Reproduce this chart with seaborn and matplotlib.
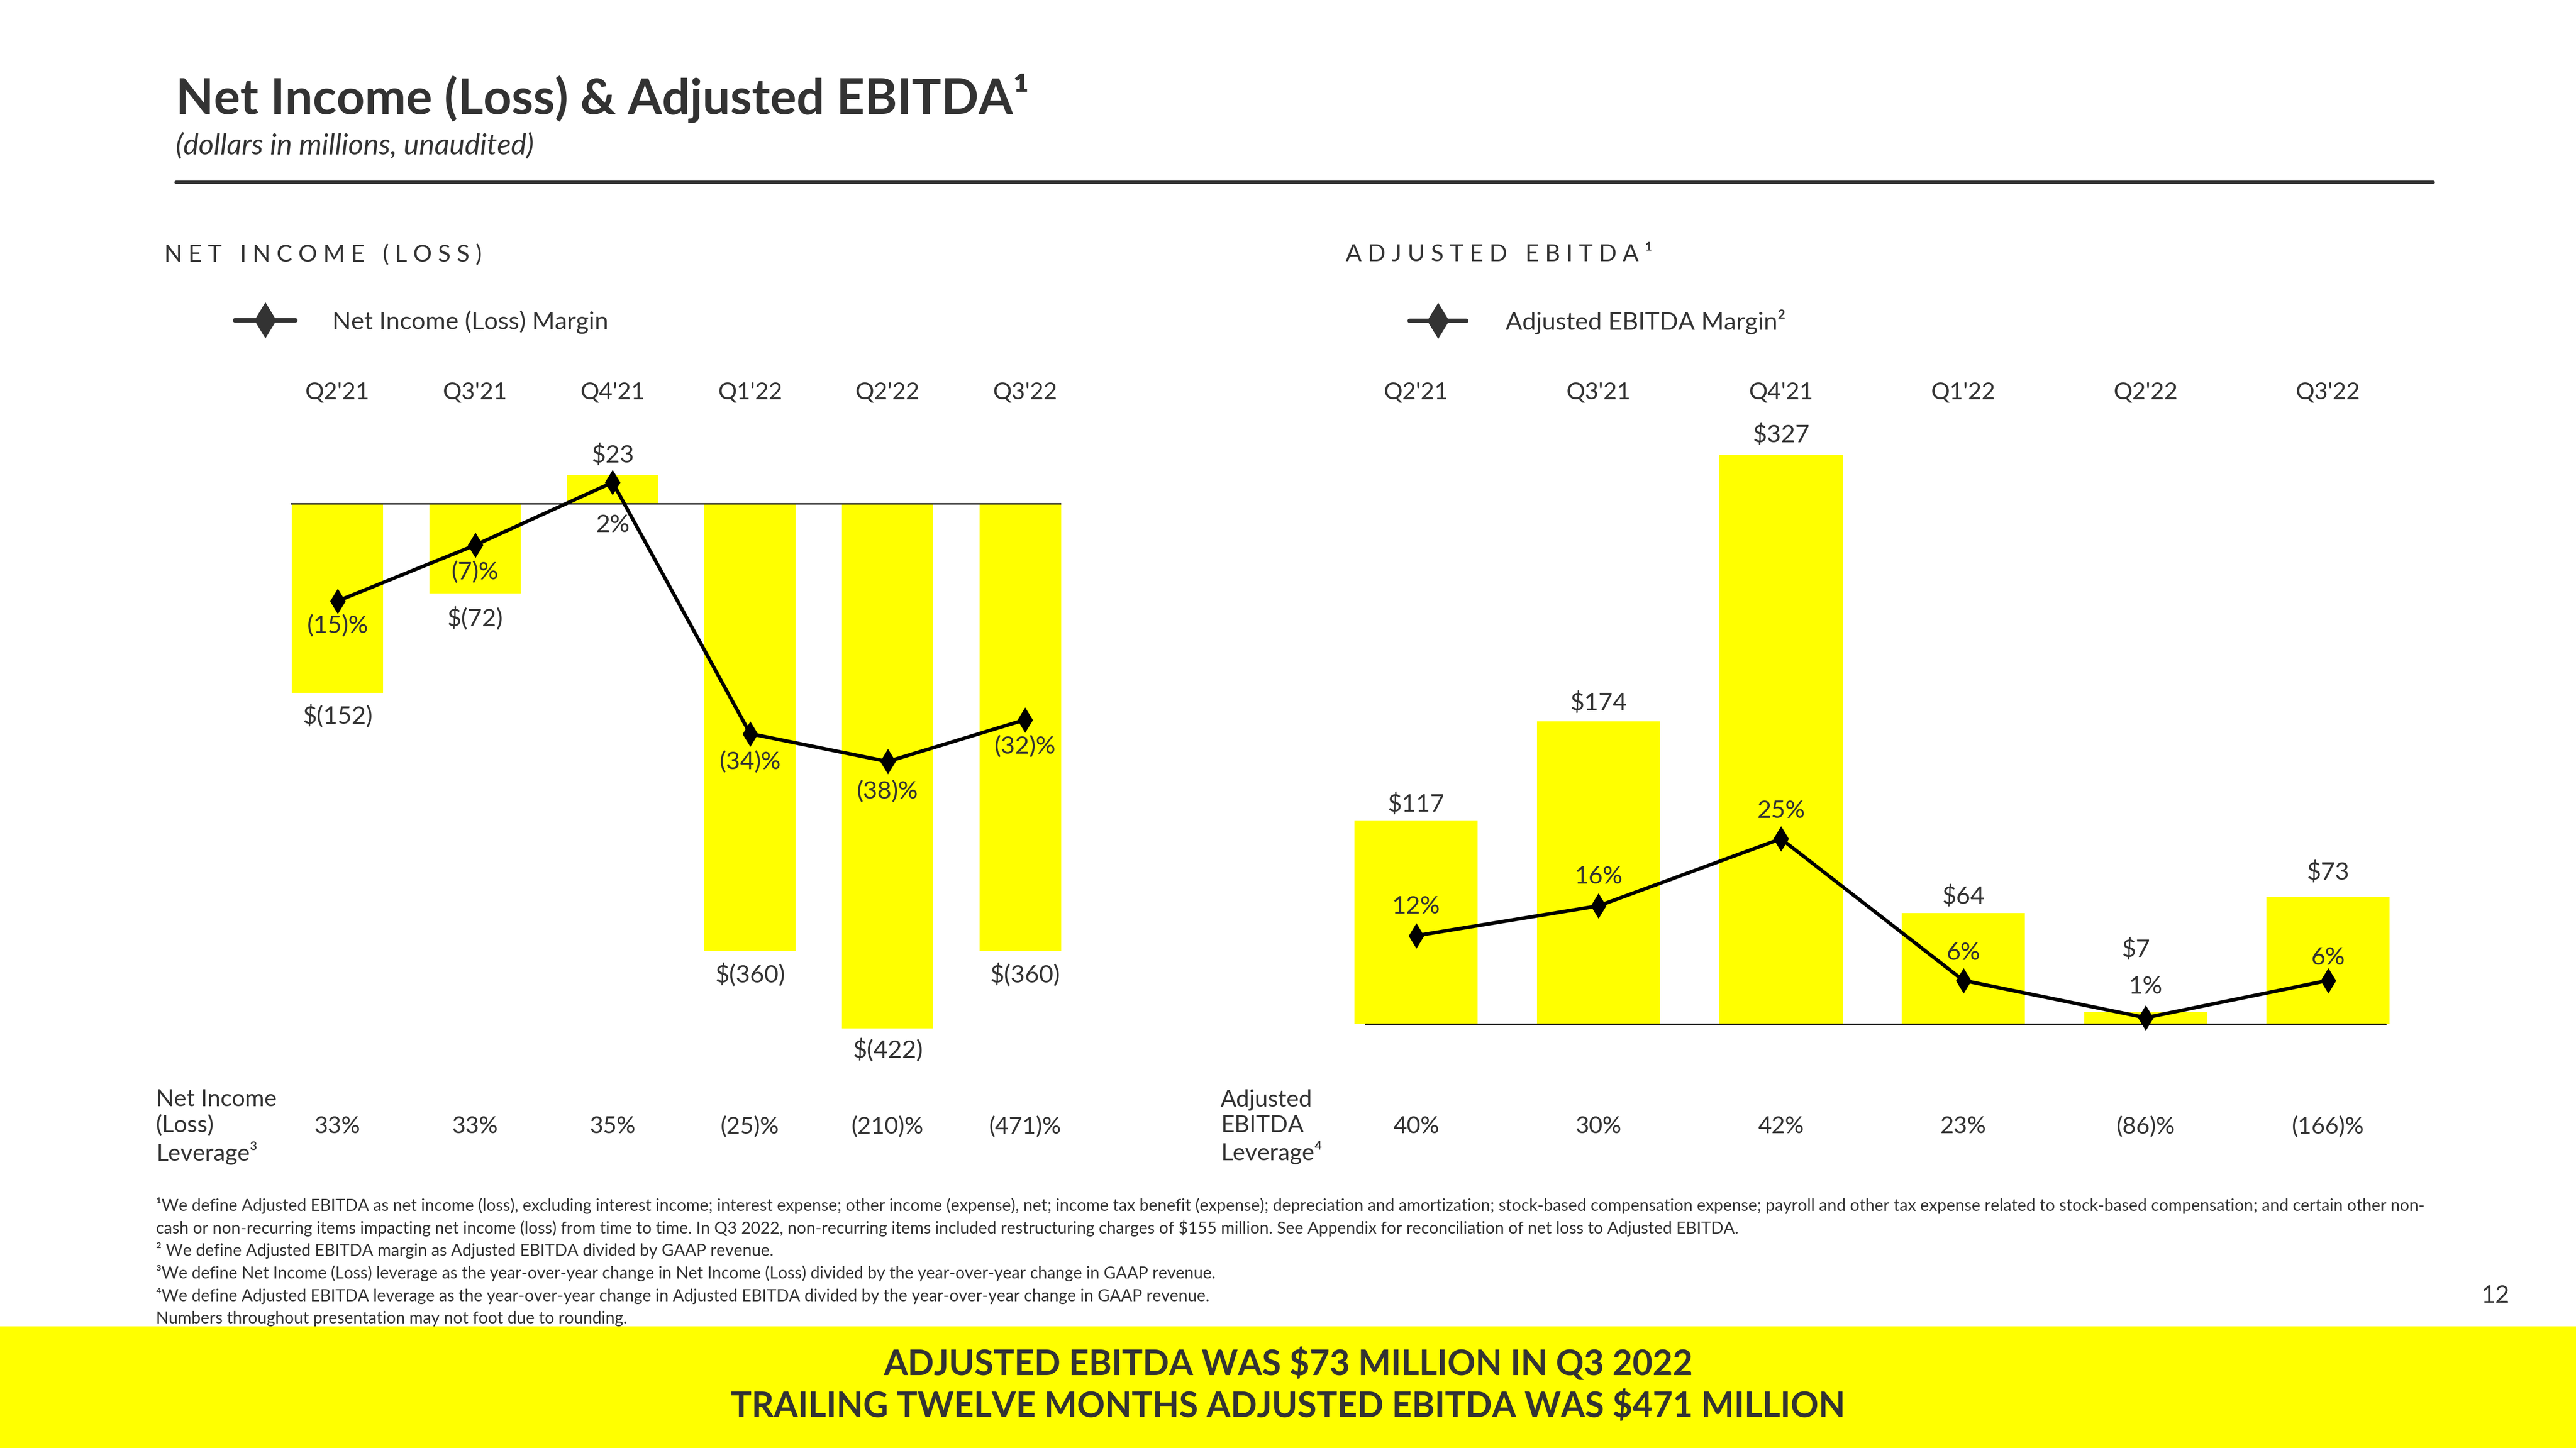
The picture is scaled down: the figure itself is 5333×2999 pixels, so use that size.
import numpy as np
import matplotlib
matplotlib.use("Agg")
import matplotlib.pyplot as plt
import matplotlib.transforms as mtransforms
from matplotlib.lines import Line2D
from matplotlib.patches import Rectangle
import seaborn as sns

# Dados do slide (milhões de dólares, não auditados)
quarters = ["Q2'21", "Q3'21", "Q4'21", "Q1'22", "Q2'22", "Q3'22"]
net_income = [-152, -72, 23, -360, -422, -360]
net_income_margin = [-15, -7, 2, -34, -38, -32]
net_income_leverage = [33, 33, 35, -25, -210, -471]
adj_ebitda = [117, 174, 327, 64, 7, 73]
adj_ebitda_margin = [12, 16, 25, 6, 1, 6]
adj_ebitda_leverage = [40, 30, 42, 23, -86, -166]

footnotes = [
    "\u00b9We define Adjusted EBITDA as net income (loss), excluding interest income; interest expense; other income (expense), net; income tax benefit (expense); depreciation and amortization; stock-based compensation expense; payroll and other tax expense related to stock-based compensation; and certain other non-",
    "cash or non-recurring items impacting net income (loss) from time to time. In Q3 2022, non-recurring items included restructuring charges of $155 million. See Appendix for reconciliation of net loss to Adjusted EBITDA.",
    "\u00b2 We define Adjusted EBITDA margin as Adjusted EBITDA divided by GAAP revenue.",
    "\u00b3We define Net Income (Loss) leverage as the year-over-year change in Net Income (Loss) divided by the year-over-year change in GAAP revenue.",
    "\u2074We define Adjusted EBITDA leverage as the year-over-year change in Adjusted EBITDA divided by the year-over-year change in GAAP revenue.",
    "Numbers throughout presentation may not foot due to rounding.",
]

YELLOW = "#FFFF00"
DARK = "#333333"

sns.set_theme(style="white")
plt.rcParams["font.family"] = ["Lato", "DejaVu Sans"]
plt.rcParams["text.parse_math"] = False

W, H = 1568.0, 882.0


def fx(x):
    return x / W


def fy(y):
    return 1 - y / H


def money(v):
    return f"${v}" if v >= 0 else f"$({-v})"


def pct(v):
    return f"{v}%" if v >= 0 else f"({-v})%"


fig = plt.figure(figsize=(16, 9), dpi=333.333)
fig.patch.set_facecolor("white")

# Cabeçalho
fig.text(fx(107), fy(60), "Net Income (Loss) & Adjusted EBITDA\u00b9", fontsize=22,
         fontweight="bold", color=DARK, va="center", ha="left")
fig.text(fx(107), fy(89), "(dollars in millions, unaudited)", fontsize=13,
         style="italic", color=DARK, va="center", ha="left")
fig.add_artist(Line2D([fx(107), fx(1481)], [fy(111), fy(111)], color=DARK, lw=1.5,
                      transform=fig.transFigure))

fig.text(fx(100), fy(155), "N E T   I N C O M E   ( L O S S )", fontsize=10.5,
         color=DARK, va="center", ha="left")
fig.text(fx(819), fy(155), "A D J U S T E D   E B I T D A \u00b9", fontsize=10.5,
         color=DARK, va="center", ha="left")

# Gráfico da esquerda - Net Income (Loss)
ax1 = fig.add_axes([fx(177), fy(640), fx(646 - 177), 370 / H])
sns.barplot(x=quarters, y=net_income, color=YELLOW, saturation=1, width=0.664,
            linewidth=0, ax=ax1)
ax1.axhline(0, color="#222222", lw=0.7, zorder=5)
ax1.set_ylim(-440, 49)
ax1.set_axis_off()

ax1b = ax1.twinx()
sns.lineplot(x=np.arange(len(quarters)), y=net_income_margin, color="black", lw=1.6,
             marker="d", markersize=7, markeredgecolor="black", ax=ax1b)
ax1b.set_ylim(-79.4, 7.65)
ax1b.set_axis_off()
ax1.set_xlim(-0.34, 5.263)

ni_off = [-10.3, -11, 9, -10.3, -9.6, -10.3]
for i, v in enumerate(net_income):
    ax1.annotate(money(v), xy=(i, v), xytext=(0, ni_off[i]), textcoords="offset points",
                 ha="center", va="center", fontsize=11, color=DARK, zorder=6)
nim_off = [-11, -11.8, -19, -12.5, -13.2, -11.8]
for i, v in enumerate(net_income_margin):
    ax1b.annotate(pct(v), xy=(i, v), xytext=(0, nim_off[i]), textcoords="offset points",
                  ha="center", va="center", fontsize=11, color=DARK)

# Gráfico da direita - Adjusted EBITDA
ax2 = fig.add_axes([fx(820), fy(640), fx(640), 385 / H])
sns.barplot(x=quarters, y=adj_ebitda, color=YELLOW, saturation=1, width=0.676,
            linewidth=0, ax=ax2)
ax2.axhline(0, xmin=(831 - 820) / 640, xmax=(1452 - 820) / 640, color="#222222", lw=0.7,
            zorder=5)
ax2.set_ylim(-15.1, 348)
ax2.set_axis_off()

ax2b = ax2.twinx()
sns.lineplot(x=np.arange(len(quarters)), y=adj_ebitda_margin, color="black", lw=1.6,
             marker="d", markersize=7, markeredgecolor="black", ax=ax2b)
ax2b.set_ylim(-3.41, 81.4)
ax2b.set_axis_off()
ax2.set_xlim(-0.378, 5.387)

ae_off = [(0, 7.3), (0, 8.1), (0, 8.8), (0, 7.3), (-4.4, 28), (0, 11)]
for i, v in enumerate(adj_ebitda):
    ax2.annotate(money(v), xy=(i, v), xytext=ae_off[i], textcoords="offset points",
                 ha="center", va="center", fontsize=11, color=DARK, zorder=6)
aem_off = [13.2, 13.2, 12.5, 12.5, 14, 10.3]
for i, v in enumerate(adj_ebitda_margin):
    ax2b.annotate(pct(v), xy=(i, v), xytext=(0, aem_off[i]), textcoords="offset points",
                  ha="center", va="center", fontsize=11, color=DARK)

# Rótulos dos trimestres e linha de alavancagem
for ax, lev in [(ax1, net_income_leverage), (ax2, adj_ebitda_leverage)]:
    tr = mtransforms.blended_transform_factory(ax.transData, fig.transFigure)
    for i, q in enumerate(quarters):
        fig.text(i, fy(239), q, transform=tr, ha="center", va="center",
                 fontsize=10.5, color=DARK)
        fig.text(i, fy(686), pct(lev[i]), transform=tr, ha="center", va="center",
                 fontsize=10.5, color=DARK)

fig.text(fx(95), fy(686), "Net Income\n(Loss)\nLeverage\u00b3", ha="left", va="center",
         fontsize=10.5, color=DARK, linespacing=1.25)
fig.text(fx(743), fy(686), "Adjusted\nEBITDA\nLeverage\u2074", ha="left", va="center",
         fontsize=10.5, color=DARK, linespacing=1.25)

# Legendas
h1 = Line2D([], [], color=DARK, lw=2, marker="d", markersize=10, markeredgecolor=DARK)
fig.legend(handles=[h1], labels=["Net Income (Loss) Margin"], loc="center left",
           bbox_to_anchor=(fx(143), fy(196)), frameon=False, fontsize=11,
           handlelength=2.45, handletextpad=1.5, borderpad=0, borderaxespad=0,
           labelcolor=DARK)
fig.legend(handles=[h1], labels=["Adjusted EBITDA Margin\u00b2"], loc="center left",
           bbox_to_anchor=(fx(858), fy(196)), frameon=False, fontsize=11,
           handlelength=2.3, handletextpad=1.6, borderpad=0, borderaxespad=0,
           labelcolor=DARK)

# Notas de rodapé
for k, line in enumerate(footnotes):
    fig.text(fx(95), fy(734 + k * 13.8), line, ha="left", va="center", fontsize=7.4,
             color=DARK)

fig.text(fx(1519), fy(789), "12", ha="center", va="center", fontsize=11, color=DARK)

# Faixa amarela no rodapé
fig.add_artist(Rectangle((0, 0), 1, fy(808), transform=fig.transFigure,
                         facecolor=YELLOW, edgecolor="none"))
fig.text(0.5, fy(831), "ADJUSTED EBITDA WAS $73 MILLION IN Q3 2022", ha="center",
         va="center", fontsize=15.5, fontweight="bold", color=DARK)
fig.text(0.5, fy(857), "TRAILING TWELVE MONTHS ADJUSTED EBITDA WAS $471 MILLION",
         ha="center", va="center", fontsize=15.5, fontweight="bold", color=DARK)

fig.savefig("out.png", dpi=333.333, facecolor="white")
